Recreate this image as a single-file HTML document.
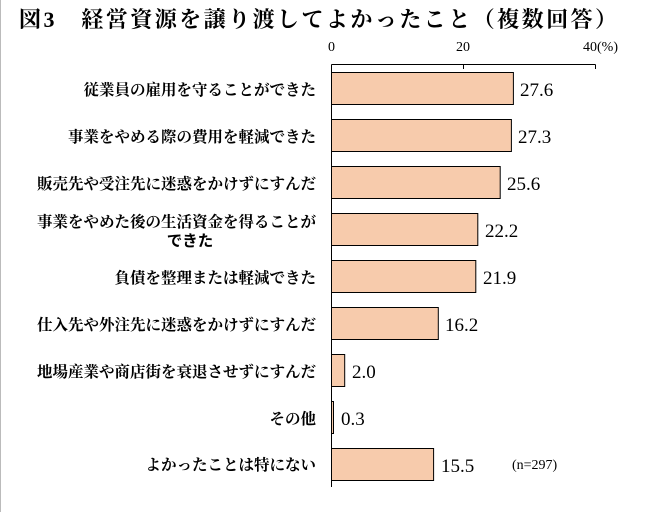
<!DOCTYPE html><html><head><meta charset="utf-8"><style>
body{margin:0;background:#fff;width:649px;height:512px;overflow:hidden}
svg text{font-family:"Liberation Serif","Noto Serif CJK SC",serif}
.l{font-family:"Liberation Sans","Noto Sans CJK JP",sans-serif;font-weight:bold;font-size:15.5px}
</style></head><body>
<svg width="649" height="512" xmlns="http://www.w3.org/2000/svg">
<line x1="0.5" y1="0" x2="0.5" y2="512" stroke="#bbb"/>
<text x="19" y="27" font-size="22" font-weight="bold" textLength="598" lengthAdjust="spacing" style="font-family:'Liberation Serif','Noto Serif CJK JP',serif">図3　経営資源を譲り渡してよかったこと（複数回答）</text>
<text x="331.5" y="51" font-size="14" text-anchor="middle">0</text>
<text x="463" y="51" font-size="14" text-anchor="middle">20</text>
<text x="583" y="51" font-size="14">40(%)</text>
<path d="M331.5 64.5H595.5M463.5 64.5V69M595.5 64.5V69M331.5 64.5V487" stroke="#000" fill="none"/>
<g fill="#F7CBAC" stroke="#000">
<rect x="331.5" y="72.5" width="181.9" height="32"/>
<rect x="331.5" y="119.5" width="179.9" height="32"/>
<rect x="331.5" y="166.5" width="168.7" height="32"/>
<rect x="331.5" y="213.5" width="146.3" height="32"/>
<rect x="331.5" y="260.5" width="144.3" height="32"/>
<rect x="331.5" y="307.5" width="106.8" height="32"/>
<rect x="331.5" y="354.5" width="13.2" height="32"/>
<rect x="331.5" y="401.5" width="2" height="32"/>
<rect x="331.5" y="448.5" width="102.1" height="32"/>
</g>
<g font-size="19">
<text x="520" y="96">27.6</text>
<text x="518" y="143">27.3</text>
<text x="507" y="190">25.6</text>
<text x="485" y="237">22.2</text>
<text x="483" y="284">21.9</text>
<text x="445" y="331">16.2</text>
<text x="352" y="378">2.0</text>
<text x="341" y="425">0.3</text>
<text x="441" y="472">15.5</text>
</g>
<text x="512" y="469" font-size="14">(n=297)</text>
<g class="l" text-anchor="end">
<text x="316" y="95">従業員の雇用を守ることができた</text>
<text x="316" y="142">事業をやめる際の費用を軽減できた</text>
<text x="316" y="189">販売先や受注先に迷惑をかけずにすんだ</text>
<text x="316" y="227">事業をやめた後の生活資金を得ることが</text>
<text x="316" y="283">負債を整理または軽減できた</text>
<text x="316" y="330">仕入先や外注先に迷惑をかけずにすんだ</text>
<text x="316" y="377">地場産業や商店街を衰退させずにすんだ</text>
<text x="316" y="424">その他</text>
<text x="316" y="470">よかったことは特にない</text>
</g>
<text class="l" x="190" y="246" text-anchor="middle">できた</text>
</svg>
</body></html>
